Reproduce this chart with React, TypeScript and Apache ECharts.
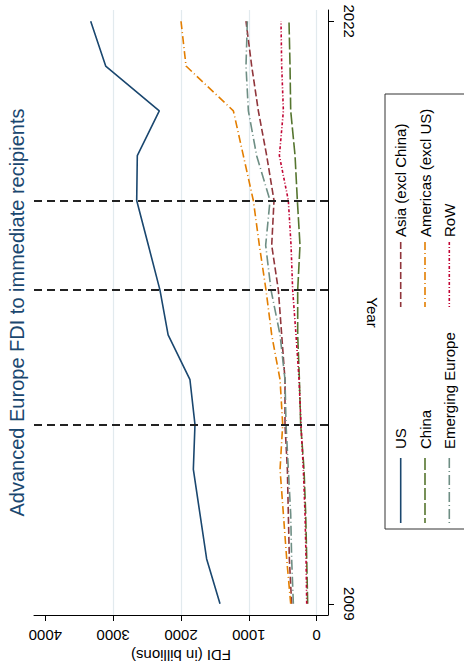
import React, { useEffect, useRef } from "react";
import * as echarts from "echarts";

// ---- data ----
const years = [2009, 2010, 2011, 2012, 2013, 2014, 2015, 2016, 2017, 2018, 2019, 2020, 2021, 2022];
const us = [1425, 1622, 1720, 1818, 1794, 1868, 2190, 2310, 2481, 2653, 2644, 2320, 3110, 3331];
const asia = [369, 403, 418, 432, 467, 467, 516, 565, 663, 629, 737, 860, 958, 1042];
const china = [133, 147, 162, 187, 236, 255, 280, 280, 246, 285, 319, 383, 393, 408];
const americas = [383, 442, 491, 540, 501, 540, 663, 747, 845, 934, 1081, 1228, 1926, 2000];
const emEurope = [344, 369, 383, 418, 452, 467, 540, 673, 752, 688, 885, 1007, 1042, 1022];
const rowVals = [147, 157, 172, 197, 231, 260, 305, 354, 378, 418, 550, 491, 516, 526];
const refYears = [2013, 2016, 2018];
const valueTicks = [0, 1000, 2000, 3000, 4000];
const gridValues = [0, 1000, 2000, 3000];
const yearTicks = [2009, 2022];
const titleText = "Advanced Europe FDI to immediate recipients";

const FONT = "'Liberation Sans', Arial, sans-serif";

const seriesDefs = [
  { name: "US", data: us, color: "#1a476f", dash: "solid" as any },
  { name: "Asia (excl China)", data: asia, color: "#90353b", dash: [7, 3] },
  { name: "China", data: china, color: "#55752f", dash: [12, 3] },
  { name: "Americas (excl US)", data: americas, color: "#e37e00", dash: [8, 3, 1, 3] },
  { name: "Emerging Europe", data: emEurope, color: "#6e8e84", dash: [10, 3, 1, 3] },
  { name: "RoW", data: rowVals, color: "#c10534", dash: [3, 2, 1, 2] },
];

export default function App() {
  const ref = useRef<HTMLDivElement>(null);
  useEffect(() => {
    if (!ref.current) return;
    const chart = echarts.init(ref.current, null, { renderer: "svg" });

    const xMin = -166.7;
    const xMax = 4166.7;

    // legend built as rotated graphic elements
    const legendEls: any[] = [
      {
        type: "rect",
        shape: { x: 385, y: 94, width: 90, height: 435 },
        style: { fill: "#fff", stroke: "#333", lineWidth: 1 },
      },
    ];
    seriesDefs.forEach((s, i) => {
      const col = i % 2;
      const r = Math.floor(i / 2);
      const kx = 400.7 + r * 24.3;
      const keyTop = col === 0 ? 458 : 242;
      const keyBottom = col === 0 ? 523 : 307;
      const textY = col === 0 ? 449 : 237;
      legendEls.push({
        type: "line",
        shape: { x1: kx, y1: keyTop, x2: kx, y2: keyBottom },
        style: {
          stroke: s.color,
          lineWidth: 1.6,
          lineDash: Array.isArray(s.dash) ? s.dash : null,
        },
      });
      legendEls.push({
        type: "text",
        x: kx,
        y: textY,
        rotation: Math.PI / 2,
        style: {
          text: s.name,
          fontSize: 15,
          fontFamily: FONT,
          fill: "#000",
          align: "left",
          verticalAlign: "middle",
          textAlign: "left",
          textVerticalAlign: "middle",
        },
      });
    });

    const option: any = {
      animation: false,
      backgroundColor: "#fff",
      textStyle: { fontFamily: FONT },
      grid: {
        left: 34,
        right: 136,
        top: 10,
        bottom: 56,
        containLabel: false,
        outerBoundsMode: "none",
      },
      xAxis: [
        {
          type: "value",
          inverse: true,
          min: xMin,
          max: xMax,
          position: "bottom",
          axisLine: { show: true, onZero: false, lineStyle: { color: "#000", width: 1 } },
          axisTick: { show: true, length: 6, customValues: valueTicks, lineStyle: { color: "#000" } },
          axisLabel: {
            customValues: valueTicks,
            rotate: 180,
            margin: 13,
            fontSize: 15,
            color: "#000",
            fontFamily: FONT,
            formatter: (v: number) => String(v),
          },
          splitLine: { show: false },
          name: "FDI (in billions)",
          nameLocation: "middle",
          nameRotate: 180,
          nameGap: 32,
          nameTextStyle: { fontSize: 15, color: "#000", fontFamily: FONT },
        },
        {
          type: "value",
          inverse: true,
          min: xMin,
          max: xMax,
          position: "bottom",
          axisLine: { show: false, onZero: false },
          axisTick: { show: false, customValues: gridValues },
          axisLabel: { show: false, customValues: gridValues },
          splitLine: { show: true, lineStyle: { color: "#e2eaee", width: 1.2 } },
        },
      ],
      yAxis: {
        type: "value",
        min: 2008.75,
        max: 2022.25,
        position: "right",
        axisLine: { show: true, onZero: false, lineStyle: { color: "#000", width: 1 } },
        axisTick: { show: true, length: 6, customValues: yearTicks, lineStyle: { color: "#000" } },
        axisLabel: {
          customValues: yearTicks,
          rotate: -90,
          margin: 14,
          fontSize: 15,
          color: "#000",
          fontFamily: FONT,
          formatter: (v: number) => String(v),
        },
        splitLine: { show: false },
        name: "Year",
        nameLocation: "middle",
        nameRotate: -90,
        nameGap: 34,
        nameTextStyle: { fontSize: 15, color: "#000", fontFamily: FONT },
      },
      graphic: [
        {
          type: "text",
          x: 17,
          y: 312.5,
          rotation: Math.PI / 2,
          style: {
            text: titleText,
            fontSize: 20,
            fontFamily: FONT,
            fill: "#1a476f",
            align: "center",
            verticalAlign: "middle",
            textAlign: "center",
            textVerticalAlign: "middle",
          },
        },
        ...legendEls,
      ],
      series: seriesDefs.map((s, idx) => ({
        name: s.name,
        type: "line",
        xAxisIndex: 0,
        yAxisIndex: 0,
        symbol: "none",
        showSymbol: false,
        data: years.map((y, i) => [s.data[i], y]),
        lineStyle: { color: s.color, width: 1.6, type: s.dash },
        itemStyle: { color: s.color },
        z: 2,
        markLine:
          idx === 0
            ? {
                silent: true,
                symbol: ["none", "none"],
                label: { show: false },
                lineStyle: { color: "#222", width: 2, type: [8, 5] },
                data: refYears.map((y) => ({ yAxis: y })),
              }
            : undefined,
      })),
    };
    chart.setOption(option);
    return () => chart.dispose();
  }, []);
  return (
    <div
      ref={ref}
      style={{ position: "fixed", left: 0, top: 0, width: 464, height: 671, background: "#fff" }}
    />
  );
}
